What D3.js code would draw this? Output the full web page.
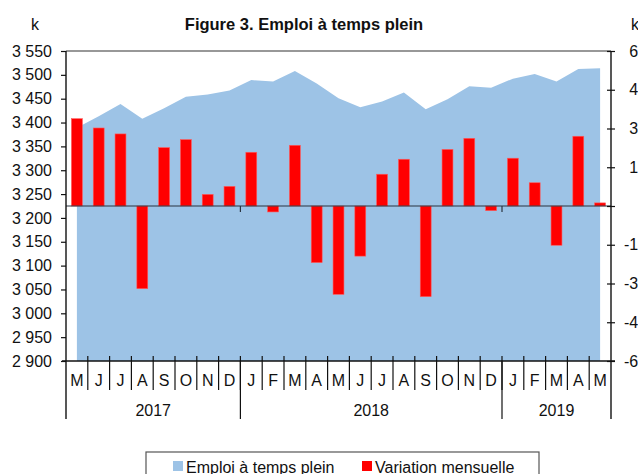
<!DOCTYPE html>
<html>
<head>
<meta charset="utf-8">
<script src="https://cdn.jsdelivr.net/npm/d3@7"></script>
<style>
  body { margin: 0; background: #fff; }
  svg text { font-family: "Liberation Sans", Arial, sans-serif; fill: #111; }
</style>
</head>
<body>
<div id="chart"></div>
<script>
// months from May 2017 to May 2019
var months = ["M","J","J","A","S","O","N","D",
              "J","F","M","A","M","J","J","A","S","O","N","D",
              "J","F","M","A","M"];
var years = [
  {label: "2017", start: 0, count: 8},
  {label: "2018", start: 8, count: 12},
  {label: "2019", start: 20, count: 5}
];
// full-time employment, thousands (left axis)
var emploi = [3389, 3413, 3439, 3408, 3430, 3454, 3459, 3467,
              3489, 3486, 3508, 3482, 3451, 3432, 3444, 3463, 3428, 3449, 3476, 3473,
              3492, 3502, 3486, 3512, 3514];
// monthly change, thousands (right axis)
var variation = [33.8, 30.2, 27.9, -32.0, 22.6, 25.7, 4.5, 7.6,
                 20.8, -2.3, 23.5, -21.9, -34.2, -19.4, 12.3, 18.1, -35.1, 21.9, 26.2, -1.8,
                 18.5, 9.0, -15.2, 27.0, 1.2];
var leftTicks = [2900, 2950, 3000, 3050, 3100, 3150, 3200, 3250, 3300, 3350, 3400, 3450, 3500, 3550];
var rightTicks = [-60, -45, -30, -15, 0, 15, 30, 45, 60];

var width = 638, height = 474;
var plotLeft = 66, plotRight = 611, plotTop = 51, plotBottom = 361;
var fontSize = "16px";

var svg = d3.select("#chart").append("svg")
            .attr("width", width)
            .attr("height", height);

var idx = months.map(function(d, i) { return i; });
var x = d3.scaleBand().domain(idx).range([plotLeft, plotRight]).padding(0);
var yL = d3.scaleLinear().domain([2900, 3550]).range([plotBottom, plotTop]);
var yR = d3.scaleLinear().domain([-60, 60]).range([plotBottom, plotTop]);

var fr = d3.formatLocale({decimal: ",", thousands: " ", grouping: [3], currency: ["", ""]});
var fmt = fr.format(",d");

// area
var area = d3.area()
             .x(function(d, i) { return x(i) + x.bandwidth() / 2; })
             .y0(yL(2900))
             .y1(function(d) { return yL(d); });
svg.append("path")
   .datum(emploi)
   .attr("d", area)
   .attr("fill", "#9dc3e6");

// bars
var bw = x.bandwidth() * 0.5;
svg.selectAll("rect.bar")
   .data(variation)
   .enter()
   .append("rect")
   .attr("class", "bar")
   .attr("x", function(d, i) { return x(i) + (x.bandwidth() - bw) / 2; })
   .attr("y", function(d) { return d >= 0 ? yR(d) : yR(0); })
   .attr("width", bw)
   .attr("height", function(d) { return Math.abs(yR(d) - yR(0)); })
   .attr("fill", "#ff0000")
   .attr("stroke", "#ff5a5a")
   .attr("stroke-width", 0.6);

// zero line
svg.append("line")
   .attr("x1", plotLeft).attr("x2", plotRight)
   .attr("y1", yR(0)).attr("y2", yR(0))
   .attr("stroke", "#2a3440").attr("stroke-width", 1.2);
years.slice(1).forEach(function(y) {
  svg.append("line")
     .attr("x1", x(y.start)).attr("x2", x(y.start))
     .attr("y1", yR(0)).attr("y2", yR(0) + 6)
     .attr("stroke", "#2a3440").attr("stroke-width", 1.2);
});

// top border
svg.append("line")
   .attr("x1", plotLeft).attr("x2", plotRight)
   .attr("y1", plotTop).attr("y2", plotTop)
   .attr("stroke", "#333").attr("stroke-width", 1.2);

// left axis
var gl = svg.append("g")
            .attr("transform", "translate(" + plotLeft + ",0)")
            .call(d3.axisLeft(yL).tickValues(leftTicks).tickFormat(fmt).tickSize(5).tickPadding(9));
gl.select(".domain").remove();
gl.selectAll("line").attr("stroke", "#111").attr("stroke-width", 1.2);
gl.selectAll("text").style("font-size", fontSize).attr("fill", "#111");

// right axis (labels right-aligned, partly beyond the page edge)
var gr = svg.append("g")
            .attr("transform", "translate(" + plotRight + ",0)")
            .call(d3.axisRight(yR).tickValues(rightTicks).tickSize(4)
                    .tickFormat(function(d) { return String(d); }));
gr.select(".domain").remove();
gr.selectAll("line").attr("x1", -4).attr("stroke", "#111").attr("stroke-width", 1.2);
gr.selectAll("text")
  .attr("x", 36)
  .attr("text-anchor", "end")
  .style("font-size", fontSize).attr("fill", "#111");

// vertical axis lines, extended down through the year rows
[plotLeft, plotRight].forEach(function(px) {
  svg.append("line")
     .attr("x1", px).attr("x2", px)
     .attr("y1", plotTop).attr("y2", 419)
     .attr("stroke", "#111").attr("stroke-width", 1.4);
});

// bottom axis line
svg.append("line")
   .attr("x1", plotLeft - 4).attr("x2", plotRight + 4)
   .attr("y1", plotBottom).attr("y2", plotBottom)
   .attr("stroke", "#111").attr("stroke-width", 1.4);

// month labels
var gb = svg.append("g")
            .attr("transform", "translate(0," + plotBottom + ")")
            .call(d3.axisBottom(x).tickSize(0).tickPadding(14)
                    .tickFormat(function(i) { return months[i]; }));
gb.select(".domain").remove();
gb.selectAll("text").style("font-size", fontSize).attr("fill", "#111");

// month separators
idx.slice(1).forEach(function(i) {
  svg.append("line")
     .attr("x1", x(i)).attr("x2", x(i))
     .attr("y1", plotBottom - 5).attr("y2", 390)
     .attr("stroke", "#111").attr("stroke-width", 1.2);
});

// years
years.forEach(function(y) {
  var x0 = x(y.start), x1 = x(y.start + y.count - 1) + x.bandwidth();
  svg.append("text")
     .attr("x", (x0 + x1) / 2)
     .attr("y", 416)
     .attr("text-anchor", "middle")
     .style("font-size", fontSize)
     .text(y.label);
  if (y.start > 0) {
    svg.append("line")
       .attr("x1", x0).attr("x2", x0)
       .attr("y1", plotBottom).attr("y2", 419)
       .attr("stroke", "#111").attr("stroke-width", 1.2);
  }
});

// title and units
svg.append("text")
   .attr("x", 304).attr("y", 30)
   .attr("text-anchor", "middle")
   .style("font-size", "16.5px").style("font-weight", "bold")
   .text("Figure 3. Emploi à temps plein");
svg.append("text")
   .attr("x", 31).attr("y", 30)
   .style("font-size", fontSize)
   .text("k");
svg.append("text")
   .attr("x", 631).attr("y", 30)
   .style("font-size", fontSize)
   .text("k");

// legend
svg.append("rect")
   .attr("x", 146).attr("y", 452)
   .attr("width", 393).attr("height", 40)
   .attr("fill", "#fff").attr("stroke", "#555").attr("stroke-width", 1.2);
var legend = [
  {label: "Emploi à temps plein", color: "#9dc3e6", x: 173},
  {label: "Variation mensuelle", color: "#ff0000", x: 362}
];
legend.forEach(function(l) {
  svg.append("rect")
     .attr("x", l.x).attr("y", 461)
     .attr("width", 10).attr("height", 10)
     .attr("fill", l.color);
  svg.append("text")
     .attr("x", l.x + 13).attr("y", 473)
     .style("font-size", fontSize)
     .text(l.label);
});
</script>
</body>
</html>
